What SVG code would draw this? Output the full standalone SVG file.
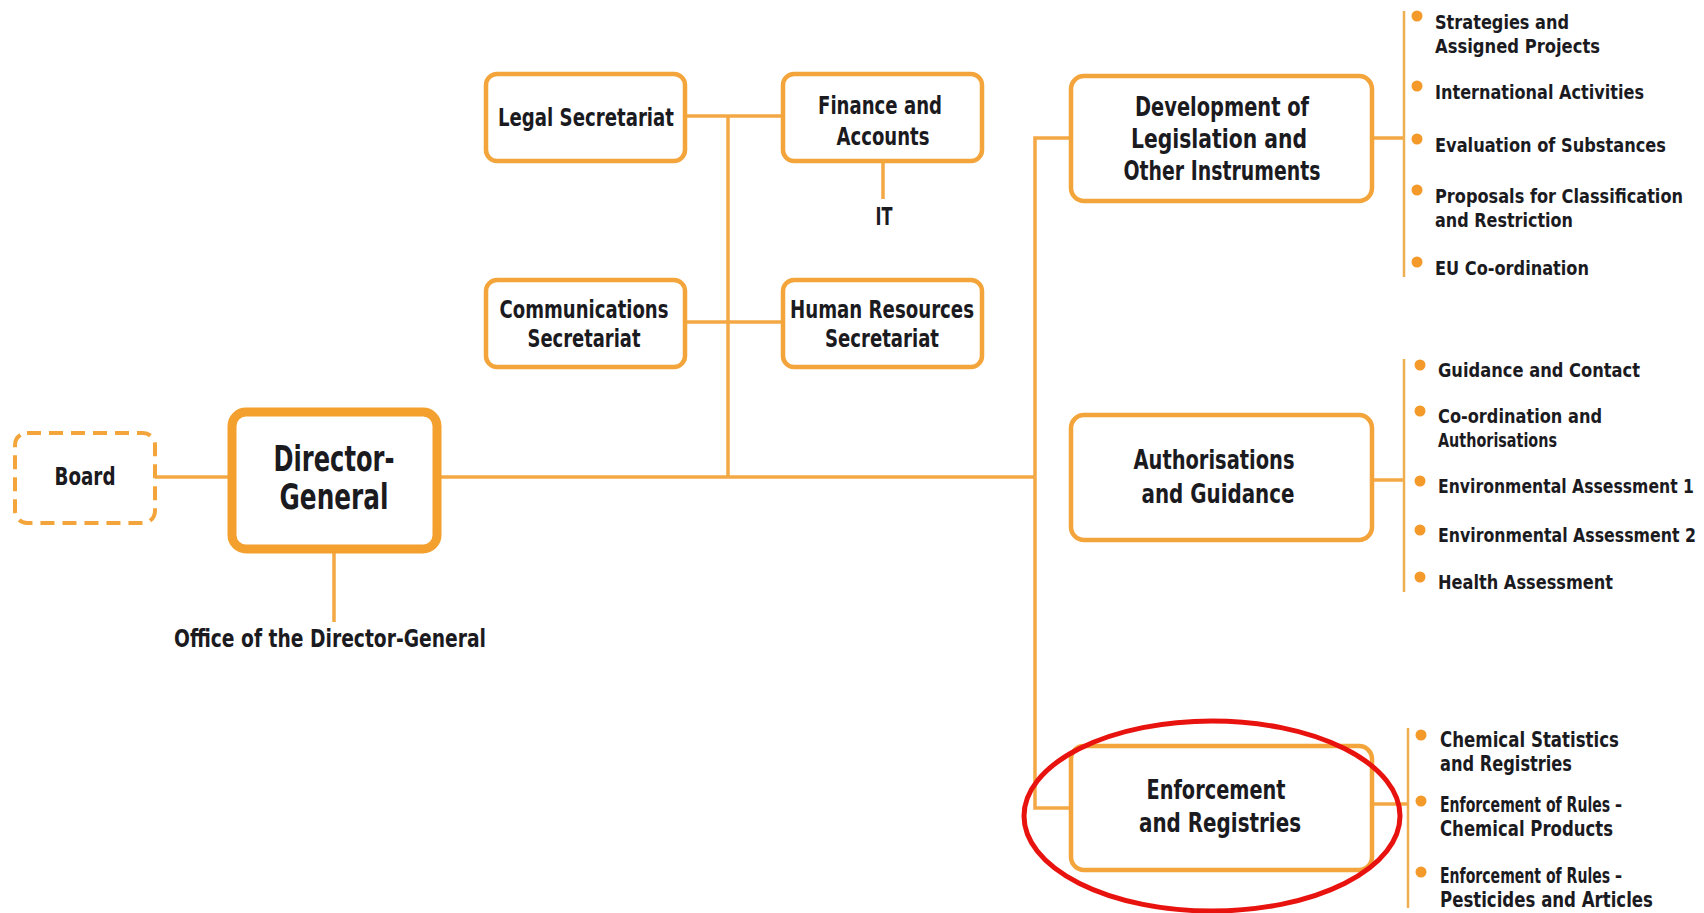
<svg xmlns="http://www.w3.org/2000/svg" width="1704" height="913" viewBox="0 0 1704 913">
<style>
.box{fill:#fff;stroke:#F3A53B;stroke-width:4.5}
.dg{fill:#fff;stroke:#F3A02E;stroke-width:9}
.board{fill:#fff;stroke:#F3A53B;stroke-width:4;stroke-dasharray:14 8}
.ln{stroke:#F3A845;stroke-width:3.5;fill:none}
.br{stroke:#EFAE4F;stroke-width:2.5;fill:none}
.t{font-family:"Liberation Sans Narrow","DejaVu Sans Condensed","Liberation Sans",sans-serif;font-weight:bold;fill:#1b1b1f}
.c{text-anchor:middle}
.s20{font-size:20px}.s21{font-size:21px}.s24{font-size:24px}.s26{font-size:26px}.s36{font-size:36px}
.dot{fill:#F39A2A}
</style>
<rect width="1704" height="913" fill="#fff"/>
<g id="connectors">
<line class="ln" x1="155" y1="477" x2="232" y2="477"/>
<line class="ln" x1="437" y1="477" x2="1035" y2="477"/>
<line class="ln" x1="334" y1="549" x2="334" y2="622"/>
<line class="ln" x1="728" y1="116" x2="728" y2="477"/>
<line class="ln" x1="685" y1="116" x2="783" y2="116"/>
<line class="ln" x1="685" y1="322" x2="783" y2="322"/>
<line class="ln" x1="883" y1="161" x2="883" y2="199"/>
<polyline class="ln" points="1071,138 1035,138 1035,808 1071,808"/>
<line class="ln" x1="1372" y1="138" x2="1404" y2="138"/>
<line class="ln" x1="1372" y1="480" x2="1404" y2="480"/>
<line class="ln" x1="1372" y1="804" x2="1408" y2="804"/>
<line class="br" x1="1404" y1="11" x2="1404" y2="277"/>
<line class="br" x1="1404" y1="359" x2="1404" y2="592"/>
<line class="br" x1="1408" y1="728" x2="1408" y2="908"/>
</g>
<g id="board"><rect class="board" x="15" y="433" width="140" height="90" rx="12"/><text class="t c s24" x="85" y="485" textLength="61" lengthAdjust="spacingAndGlyphs">Board</text></g>
<g id="director-general"><rect class="dg" x="232" y="412" width="205" height="137" rx="14"/><text class="t c s36" x="334" y="471" textLength="121" lengthAdjust="spacingAndGlyphs">Director-</text><text class="t c s36" x="334" y="509" textLength="109" lengthAdjust="spacingAndGlyphs">General</text></g>
<g id="office-dg"><text class="t c s24" x="330" y="647" textLength="312" lengthAdjust="spacingAndGlyphs">Office of the Director-General</text></g>
<g id="legal"><rect class="box" x="486" y="74" width="199" height="87" rx="11"/><text class="t c s24" x="586" y="126" textLength="176" lengthAdjust="spacingAndGlyphs">Legal Secretariat</text></g>
<g id="finance"><rect class="box" x="783" y="74" width="199" height="87" rx="11"/><text class="t c s24" x="880" y="114" textLength="124" lengthAdjust="spacingAndGlyphs">Finance and</text><text class="t c s24" x="883" y="145" textLength="93" lengthAdjust="spacingAndGlyphs">Accounts</text></g>
<g id="it"><text class="t c s24" x="884" y="225" textLength="17" lengthAdjust="spacingAndGlyphs">IT</text></g>
<g id="communications"><rect class="box" x="486" y="280" width="199" height="87" rx="11"/><text class="t c s24" x="584" y="318" textLength="169" lengthAdjust="spacingAndGlyphs">Communications</text><text class="t c s24" x="584" y="347" textLength="113" lengthAdjust="spacingAndGlyphs">Secretariat</text></g>
<g id="hr"><rect class="box" x="783" y="280" width="199" height="87" rx="11"/><text class="t c s24" x="882" y="318" textLength="184" lengthAdjust="spacingAndGlyphs">Human Resources</text><text class="t c s24" x="882" y="347" textLength="114" lengthAdjust="spacingAndGlyphs">Secretariat</text></g>
<g id="development"><rect class="box" x="1071" y="76" width="301" height="125" rx="13"/><text class="t c s26" x="1222" y="116" textLength="174" lengthAdjust="spacingAndGlyphs">Development of</text><text class="t c s26" x="1219" y="148" textLength="176" lengthAdjust="spacingAndGlyphs">Legislation and</text><text class="t c s26" x="1222" y="180" textLength="197" lengthAdjust="spacingAndGlyphs">Other Instruments</text></g>
<g id="authorisations"><rect class="box" x="1071" y="415" width="301" height="125" rx="13"/><text class="t c s26" x="1214" y="469" textLength="161" lengthAdjust="spacingAndGlyphs">Authorisations</text><text class="t c s26" x="1218" y="503" textLength="153" lengthAdjust="spacingAndGlyphs">and Guidance</text></g>
<g id="enforcement"><rect class="box" x="1071" y="746" width="301" height="124" rx="13"/><text class="t c s26" x="1216" y="799" textLength="139" lengthAdjust="spacingAndGlyphs">Enforcement</text><text class="t c s26" x="1220" y="832" textLength="162" lengthAdjust="spacingAndGlyphs">and Registries</text></g>
<g id="dev-units">
<circle class="dot" cx="1417" cy="16" r="5.5"/><text class="t s20" x="1435" y="29" textLength="134" lengthAdjust="spacingAndGlyphs">Strategies and</text><text class="t s20" x="1435" y="53" textLength="165" lengthAdjust="spacingAndGlyphs">Assigned Projects</text>
<circle class="dot" cx="1417" cy="86" r="5.5"/><text class="t s20" x="1435" y="99" textLength="209" lengthAdjust="spacingAndGlyphs">International Activities</text>
<circle class="dot" cx="1417" cy="139" r="5.5"/><text class="t s20" x="1435" y="152" textLength="231" lengthAdjust="spacingAndGlyphs">Evaluation of Substances</text>
<circle class="dot" cx="1417" cy="190" r="5.5"/><text class="t s20" x="1435" y="203" textLength="248" lengthAdjust="spacingAndGlyphs">Proposals for Classification</text><text class="t s20" x="1435" y="227" textLength="138" lengthAdjust="spacingAndGlyphs">and Restriction</text>
<circle class="dot" cx="1417" cy="262" r="5.5"/><text class="t s20" x="1435" y="275" textLength="154" lengthAdjust="spacingAndGlyphs">EU Co-ordination</text>
</g>
<g id="auth-units">
<circle class="dot" cx="1420" cy="365" r="5.5"/><text class="t s20" x="1438" y="377" textLength="202" lengthAdjust="spacingAndGlyphs">Guidance and Contact</text>
<circle class="dot" cx="1420" cy="411" r="5.5"/><text class="t s20" x="1438" y="423" textLength="164" lengthAdjust="spacingAndGlyphs">Co-ordination and</text><text class="t s20" x="1438" y="447" textLength="119" lengthAdjust="spacingAndGlyphs">Authorisations</text>
<circle class="dot" cx="1420" cy="481" r="5.5"/><text class="t s20" x="1438" y="493" textLength="256" lengthAdjust="spacingAndGlyphs">Environmental Assessment 1</text>
<circle class="dot" cx="1420" cy="530" r="5.5"/><text class="t s20" x="1438" y="542" textLength="258" lengthAdjust="spacingAndGlyphs">Environmental Assessment 2</text>
<circle class="dot" cx="1420" cy="577" r="5.5"/><text class="t s20" x="1438" y="589" textLength="175" lengthAdjust="spacingAndGlyphs">Health Assessment</text>
</g>
<g id="enf-units">
<circle class="dot" cx="1421" cy="735" r="5.5"/><text class="t s21" x="1440" y="747" textLength="179" lengthAdjust="spacingAndGlyphs">Chemical Statistics</text><text class="t s21" x="1440" y="771" textLength="132" lengthAdjust="spacingAndGlyphs">and Registries</text>
<circle class="dot" cx="1421" cy="801" r="5.5"/><text class="t s21" x="1440" y="812" textLength="182" lengthAdjust="spacingAndGlyphs">Enforcement of Rules –</text><text class="t s21" x="1440" y="836" textLength="173" lengthAdjust="spacingAndGlyphs">Chemical Products</text>
<circle class="dot" cx="1421" cy="872" r="5.5"/><text class="t s21" x="1440" y="883" textLength="182" lengthAdjust="spacingAndGlyphs">Enforcement of Rules –</text><text class="t s21" x="1440" y="907" textLength="213" lengthAdjust="spacingAndGlyphs">Pesticides and Articles</text>
</g>
<g id="highlight"><ellipse cx="1212" cy="816" rx="188" ry="95" fill="none" stroke="#E8130F" stroke-width="5"/></g>
</svg>
